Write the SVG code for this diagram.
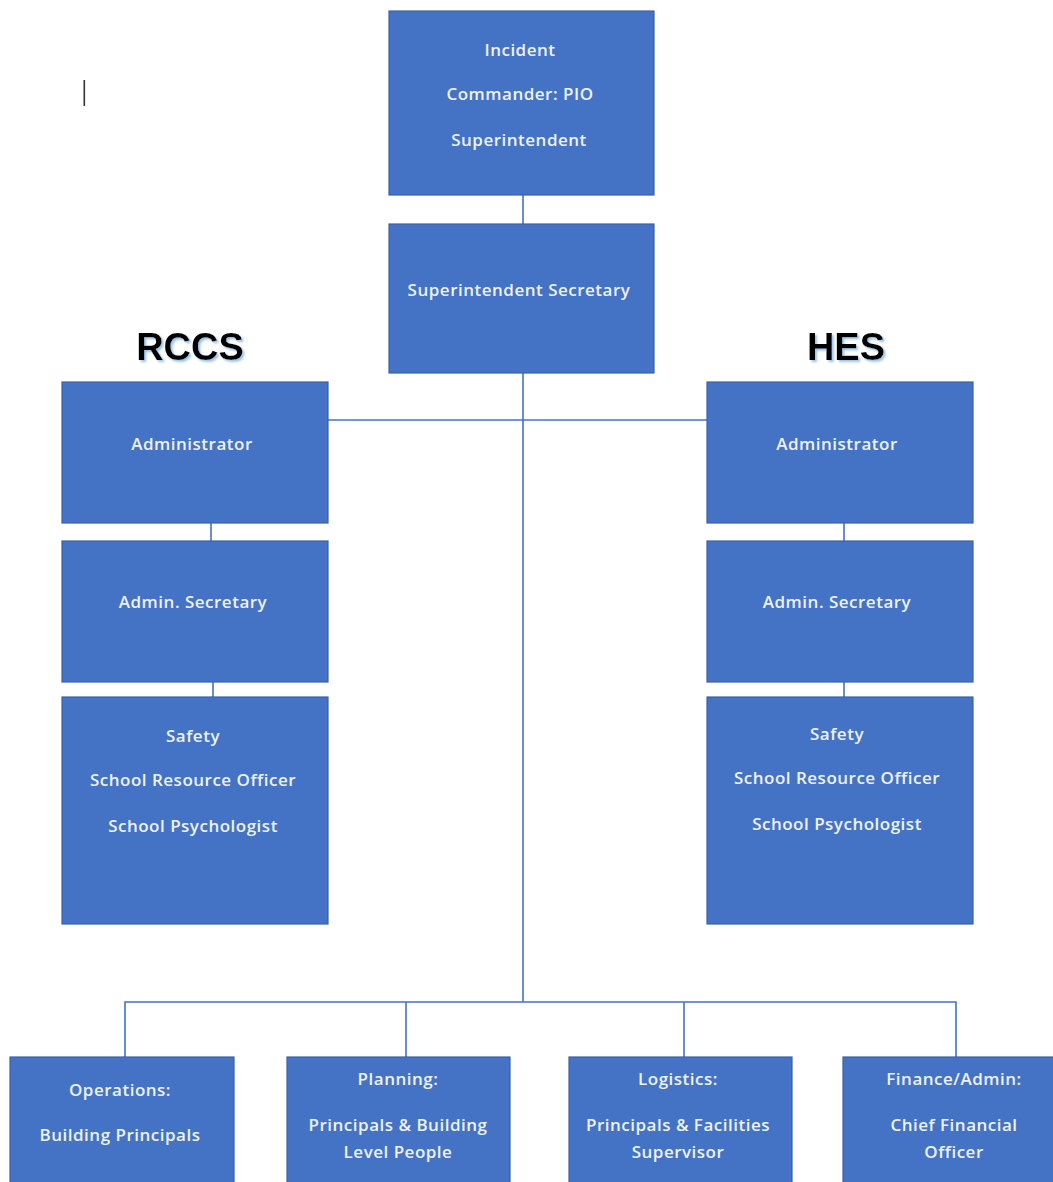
<svg xmlns="http://www.w3.org/2000/svg" width="1053" height="1182" viewBox="0 0 1053 1182">
<style>
.box{fill:#4472C4;stroke:#3A62A8;stroke-width:1.2}
.t{font-family:"Open Sans","Liberation Sans",sans-serif;font-size:17px;font-weight:600;letter-spacing:0.5px;fill:#eef2fa;text-anchor:middle}
.h{font-family:"Liberation Sans",Arial,sans-serif;font-weight:bold;font-size:38px;fill:#000000;text-anchor:middle;filter:url(#sh)}
.c{stroke:#4472C4;stroke-width:1.6;fill:none}
</style>
<defs>
<filter id="sh" x="-20%" y="-20%" width="140%" height="140%">
<feDropShadow dx="2" dy="2" stdDeviation="1.2" flood-color="#9DC3E6" flood-opacity="1"/>
</filter>
</defs>
<rect width="1053" height="1182" fill="#ffffff"/>
<rect x="83.5" y="80" width="1.6" height="26" fill="#333333"/>
<g id="connectors">
<line class="c" x1="523" y1="195" x2="523" y2="224"/>
<line class="c" x1="523" y1="373" x2="523" y2="1002"/>
<line class="c" x1="328" y1="420" x2="707" y2="420"/>
<line class="c" x1="211" y1="523" x2="211" y2="541"/>
<line class="c" x1="213" y1="682" x2="213" y2="697"/>
<line class="c" x1="844" y1="523" x2="844" y2="541"/>
<line class="c" x1="844" y1="682" x2="844" y2="697"/>
<polyline class="c" points="125,1057 125,1002 956,1002 956,1057"/>
<line class="c" x1="406" y1="1002" x2="406" y2="1057"/>
<line class="c" x1="684" y1="1002" x2="684" y2="1057"/>
</g>
<text class="h" x="190" y="360">RCCS</text>
<text class="h" x="846" y="360">HES</text>
<g id="ic">
<rect class="box" x="389" y="11" width="265" height="184"/>
<text class="t" x="520" y="56">Incident</text>
<text class="t" x="520" y="100">Commander: PIO</text>
<text class="t" x="519" y="146">Superintendent</text>
</g>
<g id="ss">
<rect class="box" x="389" y="224" width="265" height="149"/>
<text class="t" x="519" y="296">Superintendent Secretary</text>
</g>
<g id="rccs-admin">
<rect class="box" x="62" y="382" width="266" height="141"/>
<text class="t" x="192" y="450">Administrator</text>
</g>
<g id="rccs-sec">
<rect class="box" x="62" y="541" width="266" height="141"/>
<text class="t" x="193" y="608">Admin. Secretary</text>
</g>
<g id="rccs-safety">
<rect class="box" x="62" y="697" width="266" height="227"/>
<text class="t" x="193" y="742">Safety</text>
<text class="t" x="193" y="786">School Resource Officer</text>
<text class="t" x="193" y="832">School Psychologist</text>
</g>
<g id="hes-admin">
<rect class="box" x="707" y="382" width="266" height="141"/>
<text class="t" x="837" y="450">Administrator</text>
</g>
<g id="hes-sec">
<rect class="box" x="707" y="541" width="266" height="141"/>
<text class="t" x="837" y="608">Admin. Secretary</text>
</g>
<g id="hes-safety">
<rect class="box" x="707" y="697" width="266" height="227"/>
<text class="t" x="837" y="740">Safety</text>
<text class="t" x="837" y="784">School Resource Officer</text>
<text class="t" x="837" y="830">School Psychologist</text>
</g>
<g id="ops">
<rect class="box" x="10" y="1057" width="224" height="140"/>
<text class="t" x="120" y="1096">Operations:</text>
<text class="t" x="120" y="1141">Building Principals</text>
</g>
<g id="plan">
<rect class="box" x="287" y="1057" width="223" height="140"/>
<text class="t" x="398" y="1085">Planning:</text>
<text class="t" x="398" y="1131">Principals &amp; Building</text>
<text class="t" x="398" y="1158">Level People</text>
</g>
<g id="log">
<rect class="box" x="569" y="1057" width="223" height="140"/>
<text class="t" x="678" y="1085">Logistics:</text>
<text class="t" x="678" y="1131">Principals &amp; Facilities</text>
<text class="t" x="678" y="1158">Supervisor</text>
</g>
<g id="fin">
<rect class="box" x="843" y="1057" width="225" height="140"/>
<text class="t" x="954" y="1085">Finance/Admin:</text>
<text class="t" x="954" y="1131">Chief Financial</text>
<text class="t" x="954" y="1158">Officer</text>
</g>
</svg>
